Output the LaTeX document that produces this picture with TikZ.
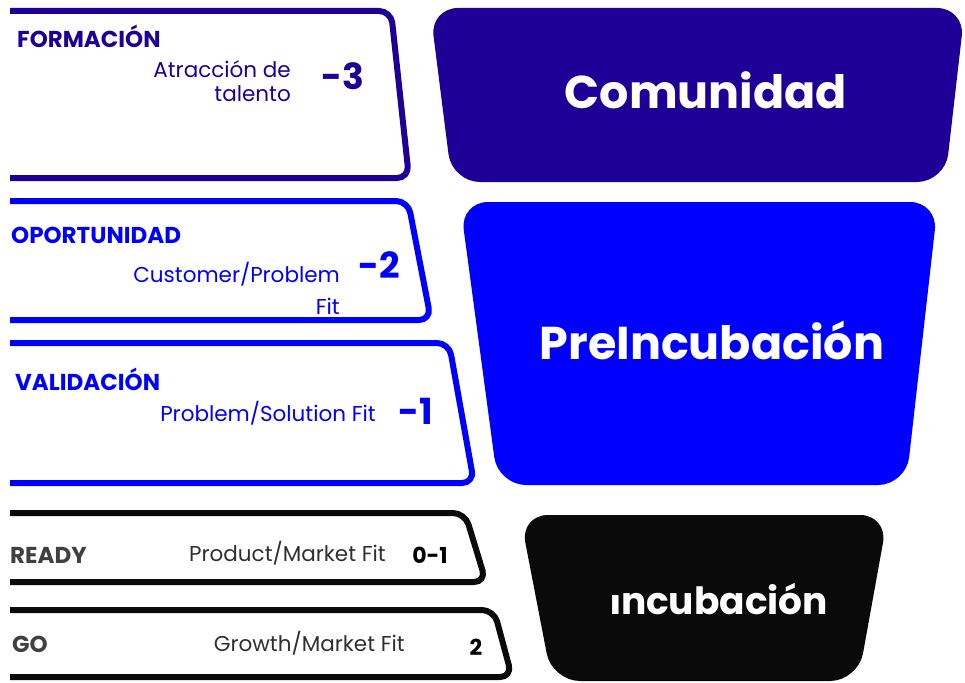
\documentclass[tikz,border=0pt]{standalone}
\usepackage{fontspec}
\setmainfont{Poppins}
\definecolor{indigo}{HTML}{1E0096}
\definecolor{azul}{HTML}{0000FF}
\definecolor{negro}{HTML}{0A0A0A}
\definecolor{gris}{HTML}{404040}
\tikzset{
  tab/.style={line width=6pt, rounded corners=12pt},
  etapa/.style={rounded corners=28pt},
  titulo/.style={font=\bfseries\fontsize{23}{23}\selectfont, anchor=west, inner sep=0pt},
  fitlabel/.style={font=\fontsize{21.5}{24}\selectfont, align=right, anchor=east, inner sep=0pt},
  nivel/.style={font=\bfseries\fontsize{36}{36}\selectfont, inner sep=0pt},
  numero/.style={font=\bfseries\fontsize{22}{22}\selectfont, text=black, inner sep=0pt},
  fase/.style={font=\bfseries\fontsize{46}{46}\selectfont, text=white, inner sep=0pt}
}
\begin{document}
\begin{tikzpicture}[x=1pt,y=-1pt]
\useasboundingbox (0,0) rectangle (965,682);
\draw[tab,indigo] (10,11) -- (391,11) -- (409,178) -- (10,178);
\draw[tab,azul] (10,201) -- (408,201) -- (431,320) -- (10,320);
\draw[tab,azul] (10,343) -- (449,343) -- (474,483) -- (10,483);
\draw[tab,negro] (10,513) -- (465,513) -- (486,582) -- (10,582);
\draw[tab,negro] (10,610) -- (494,610) -- (512,677) -- (10,677);

\fill[etapa,indigo] (430,8) -- (965,8) -- (945,182) -- (452,182) -- cycle;
\fill[etapa,azul] (460,202) -- (938,202) -- (906,485) -- (498,485) -- cycle;
\fill[etapa,negro] (520,515) -- (888,515) -- (858,681) -- (552,681) -- cycle;

\node[titulo,text=indigo] (formacion) at (17,36) {FORMACIÓN};
\node[fitlabel,text=indigo] (atraccion) at (291,81) {Atracción de\\talento};
\node[nivel,text=indigo] (menos3) at (343,76) {-3};

\node[titulo,text=azul] (oportunidad) at (11,235) {OPORTUNIDAD};
\node[fitlabel,text=azul] (customer) at (340,288) {Customer/Problem\\[8pt]Fit};
\node[nivel,text=azul] (menos2) at (379,265) {-2};

\node[titulo,text=azul] (validacion) at (15,379) {VALIDACIÓN};
\node[fitlabel,text=azul] (problem) at (376,413) {Problem/Solution Fit};
\node[nivel,text=azul] (menos1) at (416,411) {-1};

\node[titulo,text=gris] (ready) at (10,555) {READY};
\node[fitlabel,text=negro!85] (product) at (386,553) {Product/Market Fit};
\node[numero] (cerouno) at (430,555) {0-1};

\node[titulo,text=gris] (go) at (12,644) {GO};
\node[fitlabel,text=negro!85] (growth) at (405,643) {Growth/Market Fit};
\node[numero] (dos) at (476,647) {2};

\node[fase] (comunidad) at (706,90) {Comunidad};
\node[fase] (preincubacion) at (712,340) {PreIncubación};
\node[fase,font=\bfseries\fontsize{37.5}{37.5}\selectfont] (incubacion) at (719,599) {\scalebox{1}[0.72]{I}ncubación};
\end{tikzpicture}
\end{document}
